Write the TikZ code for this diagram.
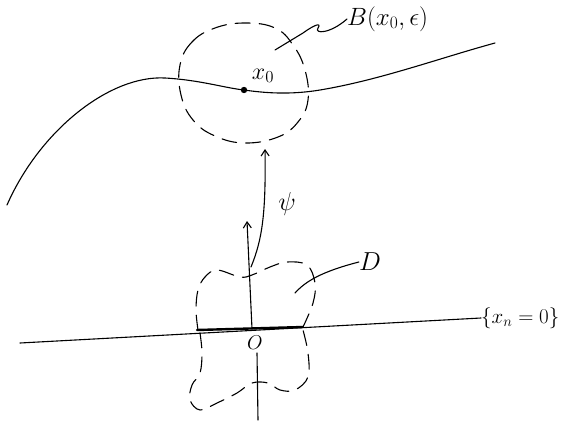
\RequirePackage{fix-cm}
\documentclass[tikz,border=0pt]{standalone}
\usetikzlibrary{arrows.meta}
\begin{document}
\begin{tikzpicture}[x=1pt,y=-1pt,line cap=round,line join=round,
  pen/.style={line width=1.1pt,black},
  dashpen/.style={line width=1.1pt,black,dash pattern=on 15pt off 9pt},
  lab/.style={inner sep=0pt,font=\fontsize{21}{24}\selectfont},
  arr/.style={-{Straight Barb[length=6pt,width=8pt,line width=1.1pt]}}]
\useasboundingbox (0,0) rectangle (567,420);
% main curve
\draw[pen] (7,205) .. controls (40,130) and (110,75) .. (165,78)
  .. controls (200,80) and (225,88) .. (244,90)
  .. controls (265,93) and (290,95) .. (320,90)
  .. controls (380,80) and (440,58) .. (495,43);
% dashed ball
\draw[dashpen] plot[smooth cycle,tension=0.7] coordinates {(180,65) (192,42) (215,28) (245,23) (275,28) (293,45) (305,70) (308,100) (298,122) (278,137) (245,143) (215,136) (193,120) (181,95)};
\fill (244,90) circle (3.2pt);
\node[lab,font=\fontsize{24}{26}\selectfont] (xo) at (263,76) {$x_0$};
% B label and leader
\node[lab,anchor=west,font=\fontsize{25}{28}\selectfont] (B) at (347,19) {$B(x_0,\epsilon)$};
\coordinate (bl) at (275,50);
\draw[pen] (bl) -- (303,33) .. controls (314,25) and (322,22) .. (318,28) .. controls (314,34) and (330,34) .. (B.west);
% horizontal axis
\node[lab,anchor=west] (hyp) at (481,318) {$\{x_n=0\}$};
\coordinate (hl) at (20,343);
\draw[pen] (hl) -- (hyp.west);
\draw[line width=2.4pt] (197,330) -- (303,327);
% vertical axis
\coordinate (o) at (252,329);
\coordinate (vt) at (247,221);
\draw[pen,arr] (o) -- (vt);
\coordinate (vb1) at (257,353);
\coordinate (vb2) at (258,420);
\draw[pen] (vb1) -- (vb2);
\node[lab,font=\fontsize{20}{22}\selectfont] (O) at (255,343) {$O$};
% psi arrow
\coordinate (ps) at (251,267);
\coordinate (pt) at (265,149);
\draw[pen,arr] (ps) .. controls (262,240) and (266,215) .. (pt);
\node[lab,font=\fontsize{26}{28}\selectfont] (psi) at (287,204) {$\psi$};
% region D
\draw[dashpen] plot[smooth,tension=0.6] coordinates {(198,330) (196,310) (198,290) (205,277) (217,270) (240,277) (252,275) (270,267) (287,262) (307,265) (315,283) (313,303) (303,327)};
\draw[dashpen] plot[smooth,tension=0.6] coordinates {(200,333) (202,353) (200,373) (192,385) (190,400) (200,410) (217,403) (237,393) (252,383) (268,383) (280,390) (295,390) (308,377) (308,353) (303,330)};
% D label and leader
\node[lab,font=\fontsize{26}{28}\selectfont] (D) at (370,262) {$D$};
\coordinate (dl) at (295,293);
\draw[pen] (dl) .. controls (305,282) and (320,272) .. (D.west);
\end{tikzpicture}
\end{document}
